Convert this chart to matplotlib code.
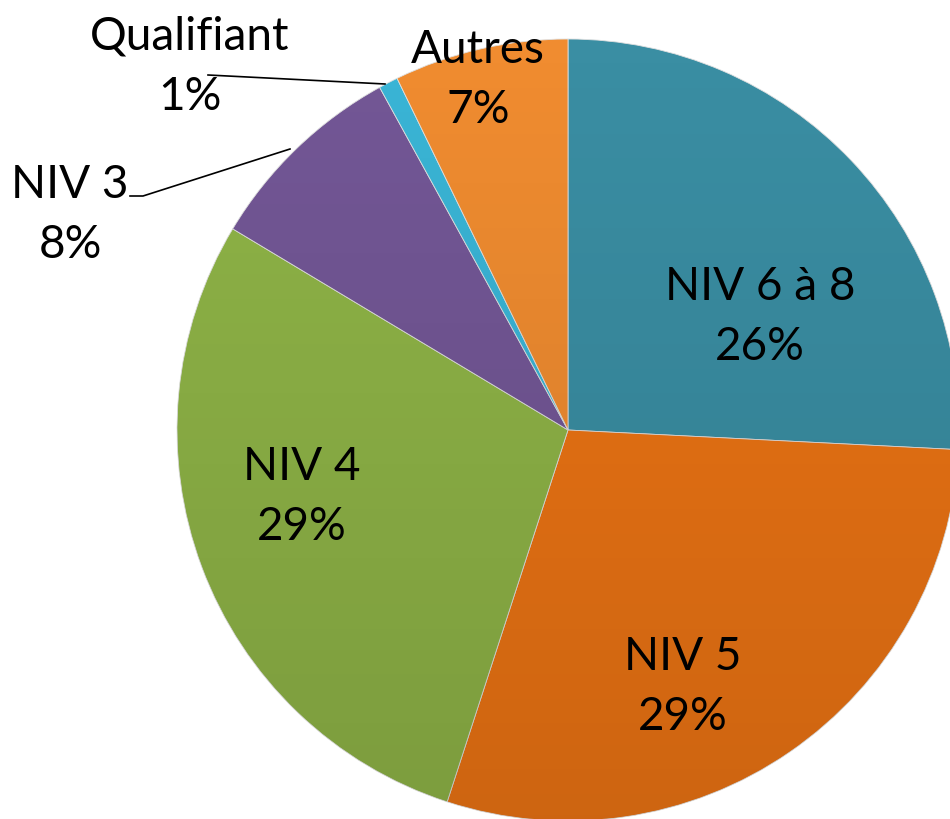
import matplotlib.pyplot as plt
import numpy as np
from matplotlib.patches import Circle

# données (sens horaire depuis midi)
categories = ['NIV 6 à 8', 'NIV 5', 'NIV 4', 'NIV 3', 'Qualifiant', 'Autres']
valeurs = [25.8, 29.2, 28.6, 8.4, 0.8, 7.2]
couleurs = ['#3a8ea3', '#ec7414', '#8fb447', '#735796', '#3ab5d6', '#f08c30']

W, H = 950, 820
fig = plt.figure(figsize=(9.5, 8.2), dpi=100)
ax = fig.add_axes([0, 0, 1, 1])

cx, cy, r = 568, H - 431, 391

wedges, _ = ax.pie(valeurs, colors=couleurs, startangle=90, counterclock=False,
                   center=(cx, cy), radius=r, frame=True,
                   wedgeprops=dict(edgecolor='#e0e0e0', linewidth=0.6))
ax.set_xlim(0, W)
ax.set_ylim(0, H)
ax.set_aspect('equal')
ax.axis('off')

# léger assombrissement vers le bas pour imiter le relief
n = 256
grad = np.zeros((n, 1, 4))
grad[:, 0, 3] = np.linspace(0.0, 0.13, n)
img = ax.imshow(grad, extent=(cx - r, cx + r, cy - r, cy + r), origin='upper',
                aspect='auto', zorder=3)
img.set_clip_path(Circle((cx, cy), r, transform=ax.transData))

pct = [f'{round(v)}%' for v in valeurs]

# positions des étiquettes (pixels, y vers le bas)
pos = {
    'NIV 6 à 8': (760, 317),
    'NIV 5': (683, 687),
    'NIV 4': (302, 497),
    'NIV 3': (70, 215),
    'Qualifiant': (190, 67),
    'Autres': (478, 80),
}

for cat, p in zip(categories, pct):
    x, y = pos[cat]
    ax.text(x, H - y, f'{cat}\n{p}', ha='center', va='center', fontsize=33,
            family='Lato', linespacing=1.55, zorder=5)

# lignes de rappel
ax.plot([130, 143, 290], [H - 197, H - 197, H - 150], color='black', lw=1.2, zorder=4)
ax.plot([208, 385], [H - 76, H - 85], color='black', lw=1.2, zorder=4)

fig.savefig('out.png', dpi=100)
